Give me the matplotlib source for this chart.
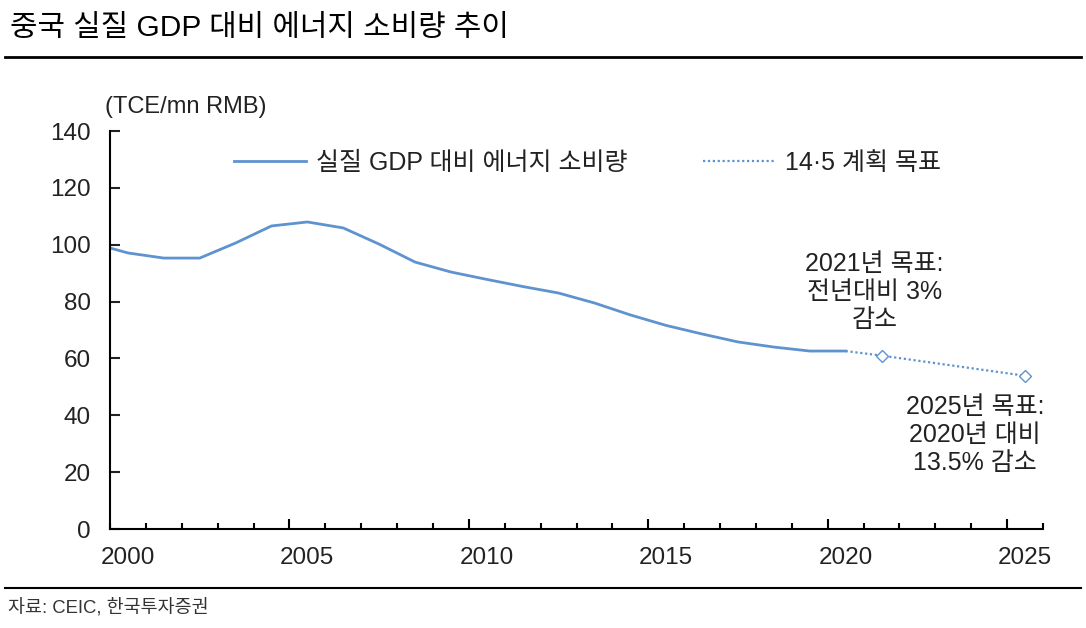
import matplotlib
matplotlib.use("Agg")
import matplotlib.pyplot as plt
import numpy as np

plt.rcParams['font.family'] = ['Liberation Sans', 'Noto Sans CJK KR']

# ---- 데이터 -------------------------------------------------
years = [1999, 2000, 2001, 2002, 2003, 2004, 2005, 2006, 2007, 2008, 2009,
         2010, 2011, 2012, 2013, 2014, 2015, 2016, 2017, 2018, 2019, 2020]
intensity = [100.6, 97.1, 95.3, 95.3, 100.6, 106.6, 108.0, 105.9, 100.2, 93.9,
             90.4, 87.8, 85.3, 83.0, 79.5, 75.3, 71.6, 68.6, 65.8, 64.0, 62.6, 62.6]
target_years = [2020, 2021, 2025]
target_vals = [62.6, 61.0, 53.9]
xtick_years = [2000, 2005, 2010, 2015, 2020, 2025]
ytick_vals = [0, 20, 40, 60, 80, 100, 120, 140]

blue = "#5f93cf"
txt = "#222222"

fig = plt.figure(figsize=(10.86, 6.28), dpi=100)
ax = fig.add_axes([110/1086, 1-529/628, 933/1086, 398/628])

ax.plot(years, intensity, color=blue, lw=2.0, label="실질 GDP 대비 에너지 소비량",
        solid_joinstyle="round")
ax.plot(target_years, target_vals, color=blue, lw=1.6, ls=(0, (1, 1.2)),
        label="14·5 계획 목표")
ax.plot(target_years[1:], target_vals[1:], ls="none", marker="D", ms=6,
        mfc="white", mec=blue, mew=1.0)

# ---- 축 -----------------------------------------------------
for s in ["top", "right"]:
    ax.spines[s].set_visible(False)
for s in ["left", "bottom"]:
    ax.spines[s].set_linewidth(1.5)

ax.set_yticks(ytick_vals)
ax.tick_params(axis="y", direction="in", length=7, width=1.5, labelsize=17.5,
               pad=14, colors=txt)
ax.set_xticks(np.arange(2004.5, 2025, 5))
ax.set_xticks(np.arange(1999.5, 2025.6, 1), minor=True)
ax.tick_params(axis="x", which="major", direction="in", length=7, width=1.5,
               labelbottom=False)
ax.tick_params(axis="x", which="minor", direction="in", length=4, width=1.5)
ax.set_xlim(1999.5, 2025.5)
ax.set_ylim(0, 140)
for y in xtick_years:
    ax.text(y, -6.5, str(y), ha="center", va="top", fontsize=17.5, color=txt)

ax.text(-0.005, 1.06, "(TCE/mn RMB)", transform=ax.transAxes, fontsize=17,
        color=txt, ha="left", va="center")

leg = ax.legend(loc="center", bbox_to_anchor=(0.512, 0.92), ncol=2, frameon=False,
                fontsize=18, handlelength=2.9, columnspacing=3.0, handletextpad=0.4)
for t in leg.get_texts():
    t.set_color(txt)

ax.text(2020.8, 83.4, "2021년 목표:\n전년대비 3%\n감소", ha="center", va="center",
        fontsize=18, color=txt, linespacing=1.2)
ax.text(2023.6, 33, "2025년 목표:\n2020년 대비\n13.5% 감소", ha="center", va="center",
        fontsize=18, color=txt, linespacing=1.2)

# ---- 제목 / 출처 --------------------------------------------
fig.text(10/1086, 1-28/628, "중국 실질 GDP 대비 에너지 소비량 추이", fontsize=21.5,
         color="black", ha="left", va="center")
fig.add_artist(plt.Line2D([5/1086, 1081/1086], [1-57/628, 1-57/628], color="black", lw=2))
fig.add_artist(plt.Line2D([5/1086, 1081/1086], [1-588/628, 1-588/628], color="black", lw=1.5))
fig.text(8/1086, 1-607/628, "자료: CEIC, 한국투자증권", fontsize=13.3, color="#333333",
         ha="left", va="center")

fig.savefig("out.png", dpi=100, facecolor="white")
